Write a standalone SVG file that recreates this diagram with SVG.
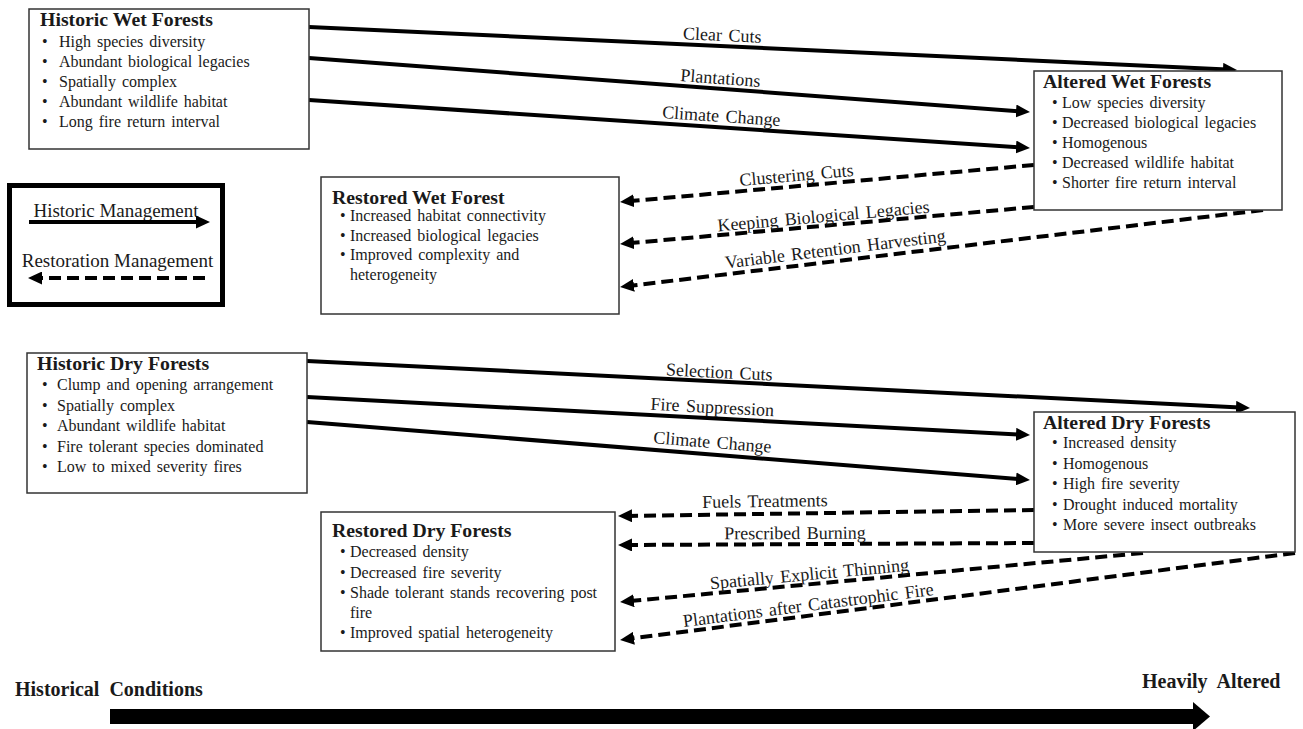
<svg xmlns="http://www.w3.org/2000/svg" width="1303" height="729" viewBox="0 0 1303 729">
<style>
text{font-family:"Liberation Serif","Times New Roman",serif;fill:#1a1a1a}
.box{fill:#fff;stroke:#333;stroke-width:1.5}
.ttl{font-size:19.8px;font-weight:bold}
.it{font-size:16px;word-spacing:2px}
.lbl{font-size:18px;text-anchor:middle;word-spacing:2px}
.leg{font-size:19px;text-anchor:middle}
.sol{stroke:#000;stroke-width:4;fill:none;marker-end:url(#ah)}
.dsh{stroke:#000;stroke-width:4;fill:none;stroke-dasharray:12 6;marker-end:url(#ah)}
.ax{font-size:20px;font-weight:bold;word-spacing:5px}
</style>
<defs>
<marker id="ah" markerUnits="userSpaceOnUse" markerWidth="15" markerHeight="13" refX="4" refY="6.5" orient="auto" viewBox="0 0 15 13">
<path d="M0,0 L14,6.5 L0,13 z" fill="#000"/>
</marker>
</defs>
<rect width="1303" height="729" fill="#fff"/>

<g id="connectors">
<line class="sol" x1="309" y1="27" x2="1227" y2="69.5"/>
<line class="sol" x1="309" y1="58" x2="1020" y2="111.3"/>
<line class="sol" x1="309" y1="100" x2="1020" y2="147.3"/>
<line class="sol" x1="307" y1="361" x2="1240" y2="407.5"/>
<line class="sol" x1="307" y1="397" x2="1020" y2="434.5"/>
<line class="sol" x1="307" y1="422" x2="1020" y2="479.2"/>
<line class="dsh" x1="1034" y1="165" x2="630" y2="201.1"/>
<line class="dsh" x1="1034" y1="207" x2="630" y2="243.1"/>
<line class="dsh" x1="1263" y1="210" x2="630" y2="285.8"/>
<line class="dsh" x1="1034" y1="510" x2="628" y2="515.9"/>
<line class="dsh" x1="1034" y1="543" x2="628" y2="545"/>
<line class="dsh" x1="1143" y1="553" x2="630" y2="601.1"/>
<line class="dsh" x1="1295" y1="553" x2="630" y2="638.7"/>
<text class="lbl" x="722" y="41" transform="rotate(2.65 722 41)">Clear Cuts</text>
<text class="lbl" x="720" y="84" transform="rotate(4.28 720 84)">Plantations</text>
<text class="lbl" x="721" y="122" transform="rotate(3.81 721 122)">Climate Change</text>
<text class="lbl" x="719" y="378" transform="rotate(2.85 719 378)">Selection Cuts</text>
<text class="lbl" x="712" y="413" transform="rotate(3 712 413)">Fire Suppression</text>
<text class="lbl" x="712" y="448" transform="rotate(4.59 712 448)">Climate Change</text>
<text class="lbl" x="797" y="181" transform="rotate(-5.1 797 181)">Clustering Cuts</text>
<text class="lbl" x="824" y="222" transform="rotate(-5.1 824 222)">Keeping Biological Legacies</text>
<text class="lbl" x="836" y="255" transform="rotate(-7 836 255)">Variable Retention Harvesting</text>
<text class="lbl" x="765" y="507" transform="rotate(-0.8 765 507)">Fuels Treatments</text>
<text class="lbl" x="795" y="539" transform="rotate(-0.3 795 539)">Prescribed Burning</text>
<text class="lbl" x="810" y="580" transform="rotate(-5.35 810 580)">Spatially Explicit Thinning</text>
<text class="lbl" x="809" y="611" transform="rotate(-7.3 809 611)">Plantations after Catastrophic Fire</text>
</g>

<g id="historic-wet">
<rect class="box" x="29" y="9" width="280" height="140"/>
<text class="ttl" x="40" y="26">Historic Wet Forests</text>
<text class="it" x="42" y="47">•</text><text class="it" x="59" y="47">High species diversity</text>
<text class="it" x="42" y="67">•</text><text class="it" x="59" y="67">Abundant biological legacies</text>
<text class="it" x="42" y="87">•</text><text class="it" x="59" y="87">Spatially complex</text>
<text class="it" x="42" y="107">•</text><text class="it" x="59" y="107">Abundant wildlife habitat</text>
<text class="it" x="42" y="127">•</text><text class="it" x="59" y="127">Long fire return interval</text>
</g>

<g id="altered-wet">
<rect class="box" x="1034" y="71" width="248" height="139"/>
<text class="ttl" x="1043" y="88">Altered Wet Forests</text>
<text class="it" x="1052" y="108">•</text><text class="it" x="1062" y="108">Low species diversity</text>
<text class="it" x="1052" y="128">•</text><text class="it" x="1062" y="128">Decreased biological legacies</text>
<text class="it" x="1052" y="148">•</text><text class="it" x="1062" y="148">Homogenous</text>
<text class="it" x="1052" y="168">•</text><text class="it" x="1062" y="168">Decreased wildlife habitat</text>
<text class="it" x="1052" y="188">•</text><text class="it" x="1062" y="188">Shorter fire return interval</text>
</g>

<g id="restored-wet">
<rect class="box" x="321" y="177" width="298" height="137"/>
<text class="ttl" x="332" y="204">Restored Wet Forest</text>
<text class="it" x="340" y="221">•</text><text class="it" x="350" y="221">Increased habitat connectivity</text>
<text class="it" x="340" y="240.5">•</text><text class="it" x="350" y="240.5">Increased biological legacies</text>
<text class="it" x="340" y="260">•</text><text class="it" x="350" y="260">Improved complexity and</text>
<text class="it" x="350" y="279.5">heterogeneity</text>
</g>

<g id="legend">
<rect x="9.5" y="185.5" width="213" height="119" fill="#fff" stroke="#000" stroke-width="5"/>
<text class="leg" x="116" y="217">Historic Management</text>
<line class="sol" x1="29" y1="222" x2="200" y2="222"/>
<text class="leg" x="117.5" y="267">Restoration Management</text>
<line class="dsh" x1="205" y1="278" x2="38" y2="278"/>
</g>

<g id="historic-dry">
<rect class="box" x="27" y="353" width="280" height="140"/>
<text class="ttl" x="37" y="369.5">Historic Dry Forests</text>
<text class="it" x="42" y="390">•</text><text class="it" x="57" y="390">Clump and opening arrangement</text>
<text class="it" x="42" y="410.5">•</text><text class="it" x="57" y="410.5">Spatially complex</text>
<text class="it" x="42" y="431">•</text><text class="it" x="57" y="431">Abundant wildlife habitat</text>
<text class="it" x="42" y="451.5">•</text><text class="it" x="57" y="451.5">Fire tolerant species dominated</text>
<text class="it" x="42" y="472">•</text><text class="it" x="57" y="472">Low to mixed severity fires</text>
</g>

<g id="altered-dry">
<rect class="box" x="1034" y="412" width="261" height="140"/>
<text class="ttl" x="1043" y="428.5">Altered Dry Forests</text>
<text class="it" x="1052" y="448">•</text><text class="it" x="1063" y="448">Increased density</text>
<text class="it" x="1052" y="468.5">•</text><text class="it" x="1063" y="468.5">Homogenous</text>
<text class="it" x="1052" y="489">•</text><text class="it" x="1063" y="489">High fire severity</text>
<text class="it" x="1052" y="509.5">•</text><text class="it" x="1063" y="509.5">Drought induced mortality</text>
<text class="it" x="1052" y="530">•</text><text class="it" x="1063" y="530">More severe insect outbreaks</text>
</g>

<g id="restored-dry">
<rect class="box" x="321" y="512" width="294" height="139"/>
<text class="ttl" x="332" y="536.5">Restored Dry Forests</text>
<text class="it" x="340" y="557">•</text><text class="it" x="350" y="557">Decreased density</text>
<text class="it" x="340" y="577.5">•</text><text class="it" x="350" y="577.5">Decreased fire severity</text>
<text class="it" x="340" y="598">•</text><text class="it" x="350" y="598">Shade tolerant stands recovering post</text>
<text class="it" x="350" y="617.5">fire</text>
<text class="it" x="340" y="638">•</text><text class="it" x="350" y="638">Improved spatial heterogeneity</text>
</g>

<g id="axis">
<text class="ax" x="15" y="696">Historical Conditions</text>
<text class="ax" x="1142" y="688">Heavily Altered</text>
<rect x="110" y="709" width="1085" height="15" fill="#000"/>
<polygon points="1193,702 1210,716.5 1193,731" fill="#000"/>
</g>
</svg>
